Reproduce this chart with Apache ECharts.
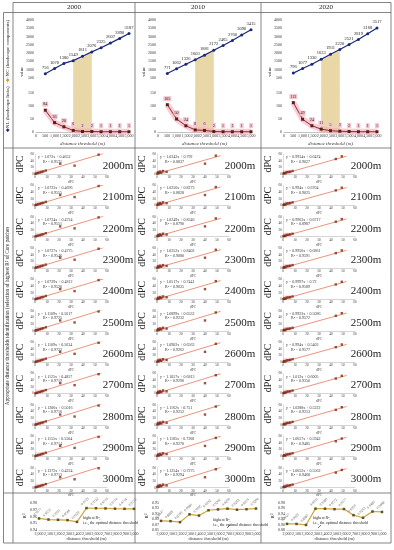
<!DOCTYPE html>
<html><head><meta charset="utf-8">
<script src="https://cdn.jsdelivr.net/npm/echarts@6/dist/echarts.min.js"></script>
<style>html,body{margin:0;padding:0;background:#fff}#c{width:394px;height:550px}</style>
</head><body><div id="c"></div>
<script>
// ---------------- data ----------------
const years = ['2000', '2010', '2020'];
const topThresholds = [500, 1000, 1500, 2000, 2500, 3000, 3500, 4000, 4500, 5000];
const nc2000 = [756, 1070, 1380, 1549, 1811, 2076, 2325, 2607, 2890, 3187];
const nc2010 = [771, 1062, 1326, 1603, 1881, 2172, 2465, 2760, 3090, 3415];
const nc2020 = [796, 1077, 1330, 1633, 1931, 2220, 2521, 2819, 3168, 3517];
const nl2000 = [84, 36, 20, 6, 2, 2, 1, 1, 1, 1];
const nl2010 = [105, 50, 24, 8, 6, 2, 1, 1, 1, 1];
const nl2020 = [113, 49, 24, 11, 5, 3, 2, 1, 1, 1];
const highlightRange = [2000, 3000];

const rowThresholds = [2000, 2100, 2200, 2300, 2400, 2500, 2600, 2700, 2800, 2900, 3000];
const rowLabels = ['2000m', '2100m', '2200m', '2300m', '2400m', '2500m', '2600m', '2700m', '2800m', '2900m', '3000m'];

const slope2000 = [1.072, 1.0723, 1.0724, 1.0727, 1.0729, 1.1109, 1.1109, 1.1125, 1.1206, 1.1155, 1.1372];
const intercept2000 = [0.4652, 0.4696, 0.4724, 0.4775, 0.4812, 0.5617, 0.5634, 0.4857, 0.5016, 0.5504, 0.4224];
const r2_2000 = [0.9571, 0.9555, 0.9551, 0.9546, 0.9520, 0.9725, 0.9722, 0.9719, 0.9716, 0.9714, 0.9713];

const slope2010 = [1.0242, 1.0256, 1.0249, 1.0252, 1.0517, 1.0899, 1.0902, 1.1057, 1.1162, 1.1185, 1.1254];
const intercept2010 = [0.792, 0.8273, 0.8346, 0.8402, 0.7441, 0.6532, 0.6563, 0.6813, 0.751, 0.7268, 0.7275];
const r2_2010 = [0.8837, 0.8828, 0.8790, 0.9080, 0.9035, 0.9232, 0.9262, 0.9290, 0.9252, 0.9270, 0.9294];

const slope2020 = [0.9934, 0.994, 0.9963, 0.9956, 0.9997, 0.9923, 0.994, 1.012, 1.0288, 1.0657, 1.0652];
const intercept2020 = [0.6474, 0.6704, 0.6717, 0.6861, 0.72, 0.5086, 0.5403, 0.6005, 0.5222, 0.5942, 0.5562];
const r2_2020 = [0.9027, 0.9025, 0.8987, 0.9591, 0.9589, 0.9572, 0.9577, 0.9350, 0.9253, 0.9485, 0.9468];

const dpcX2000 = [0.3, 1.2, 2.5, 4, 5.5, 7, 9, 21, 33, 53];
const dpcY2000 = [0.6, 1.8, 3.2, 4.6, 6.5, 7.8, 10.5, 31, 25, 58];
const dpcX2010 = [0.2, 0.8, 1.5, 2.5, 3.5, 5, 8, 40, 49];
const dpcY2010 = [1, 5, 2.5, 7, 4, 9, 6.5, 31, 55];
const dpcX2020 = [0.3, 1, 2, 3, 4.5, 6, 8, 44, 49];
const dpcY2020 = [1, 3, 2, 5.5, 6, 7, 9, 45, 53];

// ---------------- layout / styles ----------------
const SERIF = 'Liberation Serif';
const colLeft = [13, 135, 261];
const ncAll = [nc2000, nc2010, nc2020];
const nlAll = [nl2000, nl2010, nl2020];
const slopeAll = [slope2000, slope2010, slope2020];
const interAll = [intercept2000, intercept2010, intercept2020];
const r2All = [r2_2000, r2_2010, r2_2020];
const dxAll = [dpcX2000, dpcX2010, dpcX2020];
const dyAll = [dpcY2000, dpcY2010, dpcY2020];
const r2Axis = [{min: 0.94, max: 0.98, interval: 0.01}, {min: 0.85, max: 0.95, interval: 0.02}, {min: 0.88, max: 0.98, interval: 0.02}];
const annot = [{x: 70, y: 518, arrow: null}, {x: 78, y: 520, arrow: [92, 527]}, {x: 52, y: 518, arrow: [57, 527]}];

const grid = [], xAxis = [], yAxis = [], series = [], graphic = [];
function addGrid(g, xa, ya) {
  grid.push(g);
  const i = grid.length - 1;
  xa.gridIndex = i; ya.gridIndex = i;
  xAxis.push(xa); yAxis.push(ya);
  return i;
}
const noLine = {show: false};
function txt(x, y, text, o) {
  o = o || {};
  graphic.push({
    type: 'text', x: x, y: y, rotation: o.rot || 0, silent: true, z: 100,
    style: Object.assign({
      text: text, fill: o.fill || '#222', fontSize: o.size || 5, fontFamily: SERIF,
      fontStyle: o.italic ? 'italic' : 'normal',
      align: o.align || 'center', verticalAlign: o.valign || 'middle'
    }, o.rich ? {rich: o.rich} : {})
  });
}
function ln(x1, y1, x2, y2, c, w) {
  graphic.push({type: 'line', silent: true, z: 99, shape: {x1, y1, x2, y2}, style: {stroke: c || '#666', lineWidth: w || 0.8}});
}

const rowTop0 = 148, rowH = 31.36;

for (let c = 0; c < 3; c++) {
  const L = colLeft[c];
  const nc = ncAll[c], nl = nlAll[c];
  // ---- top: upper (NC) ----
  const gU = addGrid({left: L + 23, top: 20, width: 93, height: 74.6},
    {type: 'value', min: 0, max: 5000, interval: 500, show: false},
    {type: 'value', min: -500, max: 4000, interval: 500, axisLine: noLine, axisTick: noLine, splitLine: noLine,
     axisLabel: {fontSize: 4, margin: 2, color: '#333', fontFamily: SERIF, formatter: v => v >= 500 ? String(v) : ''}});
  const ncPts = topThresholds.map((t, i) => [t, nc[i]]);
  series.push({type: 'line', xAxisIndex: gU, yAxisIndex: gU, z: 1, silent: true, symbol: 'none',
    data: ncPts.filter(p => p[0] >= highlightRange[0] && p[0] <= highlightRange[1]),
    lineStyle: {opacity: 0}, areaStyle: {color: '#ead7a8', opacity: 1, origin: 'start'}});
  series.push({type: 'line', xAxisIndex: gU, yAxisIndex: gU, z: 3, data: ncPts,
    symbol: 'circle', symbolSize: 3, lineStyle: {color: '#1b2a78', width: 1.2}, itemStyle: {color: '#1b2a78'},
    label: {show: true, position: 'top', distance: 2, fontSize: 4.5, color: '#222', fontFamily: SERIF}});
  // ---- top: lower (NL) ----
  const gL = addGrid({left: L + 23, top: 93, width: 93, height: 39},
    {type: 'value', min: 0, max: 5000, interval: 500, splitLine: noLine, axisTick: noLine,
     axisLine: {lineStyle: {color: '#999', width: 0.6}},
     axisLabel: {fontSize: 4, margin: 2, color: '#333', fontFamily: SERIF},
     name: 'distance threshold (m)', nameLocation: 'middle', nameGap: 9,
     nameTextStyle: {fontSize: 5, fontStyle: 'italic', color: '#333', fontFamily: SERIF}},
    {type: 'value', min: 0, max: 150, interval: 50, axisLine: noLine, axisTick: noLine, splitLine: noLine,
     axisLabel: {fontSize: 4, margin: 2, color: '#333', fontFamily: SERIF}});
  const nlPts = topThresholds.map((t, i) => [t, nl[i]]);
  series.push({type: 'line', xAxisIndex: gL, yAxisIndex: gL, z: 1, silent: true, symbol: 'none', data: nlPts,
    lineStyle: {color: 'rgba(245,168,190,0.6)', width: 6},
    markArea: {silent: true, itemStyle: {color: '#ead7a8'}, data: [[{xAxis: highlightRange[0]}, {xAxis: highlightRange[1]}]]}});
  series.push({type: 'line', xAxisIndex: gL, yAxisIndex: gL, z: 3, data: nlPts,
    symbol: 'rect', symbolSize: 3, lineStyle: {color: '#8a2f1f', width: 1}, itemStyle: {color: '#5a1e12'},
    label: {show: true, position: 'top', distance: 2, fontSize: 4, color: '#222', fontFamily: SERIF,
      backgroundColor: '#f6c4d0', padding: [0.5, 1]}});
  txt(L + 9, 72, 'value', {rot: Math.PI / 2, size: 4.5});

  // ---- scatter rows ----
  for (let r = 0; r < rowThresholds.length; r++) {
    const T = rowTop0 + r * rowH;
    const gi = addGrid({left: L + 22, top: T + 6, width: 72, height: 20},
      {type: 'value', min: 0, max: 60, interval: 10, splitLine: noLine, axisTick: noLine,
       axisLine: {lineStyle: {color: '#aaa', width: 0.5}},
       axisLabel: {fontSize: 3.5, margin: 1, color: '#444', fontFamily: SERIF},
       name: 'dPC', nameLocation: 'middle', nameGap: 5, nameTextStyle: {fontSize: 3.5, color: '#444', fontFamily: SERIF}},
      {type: 'value', min: 0, max: 60, interval: 20, splitLine: noLine, axisTick: noLine,
       axisLine: {show: true, lineStyle: {color: '#bbb', width: 0.5}},
       axisLabel: {fontSize: 3.5, margin: 1, color: '#444', fontFamily: SERIF}});
    const a = slopeAll[c][r], b = interAll[c][r];
    const xs = dxAll[c], ys = dyAll[c];
    const xEnd = Math.max.apply(null, xs) + 4;
    series.push({type: 'line', xAxisIndex: gi, yAxisIndex: gi, z: 2, silent: true, symbol: 'none',
      data: [[0, b], [xEnd, a * xEnd + b]],
      lineStyle: {color: '#e8775a', width: 0.8},
      markArea: {silent: true, itemStyle: {color: 'rgba(250,165,190,0.5)'}, data: [[{coord: [0, 0]}, {coord: [7, 12]}]]}});
    series.push({type: 'scatter', xAxisIndex: gi, yAxisIndex: gi, z: 3, symbol: 'rect', symbolSize: 2.4,
      itemStyle: {color: '#7a2a12'}, data: xs.map((x, i) => [x, ys[i]])});
    txt(L + 25, T + 9, 'y = ' + a + 'x + ' + b, {align: 'left', size: 4, fill: '#333'});
    txt(L + 30, T + 13.5, 'R\u00b2 = ' + r2All[c][r].toFixed(4), {align: 'left', size: 4, fill: '#333'});
    txt(L + 7.5, T + 16, 'dPC', {rot: Math.PI / 2, size: 10});
    txt(L + 105, T + 18, rowLabels[r], {size: 11});
  }

  // ---- bottom R2 chart ----
  const ax = r2Axis[c];
  const gB = addGrid({left: L + 26, top: 503, width: 95, height: 27},
    {type: 'value', min: 2000, max: 3000, interval: 100, splitLine: noLine, axisTick: noLine,
     axisLine: {lineStyle: {color: '#aaa', width: 0.5}},
     axisLabel: {fontSize: 4, margin: 1.5, color: '#333', fontFamily: SERIF},
     name: 'distance threshold (m)', nameLocation: 'middle', nameGap: 6.5,
     nameTextStyle: {fontSize: 4.5, color: '#333', fontFamily: SERIF}},
    {type: 'value', min: ax.min, max: ax.max, interval: ax.interval, splitLine: noLine, axisTick: noLine, axisLine: noLine,
     axisLabel: {fontSize: 4, margin: 2, color: '#333', fontFamily: SERIF, formatter: v => v.toFixed(2)}});
  series.push({type: 'line', xAxisIndex: gB, yAxisIndex: gB, z: 3,
    data: rowThresholds.map((t, i) => [t, r2All[c][i]]),
    symbol: 'rect', symbolSize: 2.5, lineStyle: {color: '#d2a43a', width: 1.2}, itemStyle: {color: '#5c5220'},
    label: {show: true, position: 'top', distance: 4, rotate: 45, fontSize: 3.5, color: '#555', fontFamily: SERIF,
      formatter: p => p.value[1].toFixed(4)}});
  txt(L + 12, 516, 'R\u00b2', {rot: Math.PI / 2, size: 5});
  const an = annot[c];
  txt(L + an.x, an.y, 'highest R\u00b2,', {align: 'left', size: 4});
  txt(L + an.x, an.y + 4.5, 'i.e., the optimal distance threshold', {align: 'left', size: 4});
  if (an.arrow) {
    ln(L + an.arrow[0] + 3, an.arrow[1] - 2, L + an.arrow[0], an.arrow[1] + 1, '#3355aa', 0.8);
  }

  // header
  txt(L + (c === 2 ? 65 : (c === 0 ? 61 : 63)), 7.5, years[c], {size: 7});
}

// left-side titles
txt(7.5, 76, '{a|\u25c6}NL (landscape links)  {b|-\u25c6-}NC (landscape components)',
  {rot: Math.PI / 2, size: 5, rich: {a: {fill: '#1b2a78', fontSize: 5}, b: {fill: '#d39a2a', fontSize: 5}}});
txt(7.5, 316, 'Appropriate distance thresholds identification (selection of highest R\u00b2 of Core patches',
  {rot: Math.PI / 2, size: 5.2});

// frame lines
ln(13, 2.5, 391, 2.5);
ln(3.5, 12.5, 391, 12.5);
ln(3.5, 148, 391, 148);
ln(3.5, 493, 391, 493);
ln(3.5, 543, 391, 543);
ln(3.5, 12.5, 3.5, 543);
ln(13, 2.5, 13, 543);
ln(135, 2.5, 135, 543);
ln(261, 2.5, 261, 543);
ln(391, 2.5, 391, 543);

const chart = echarts.init(document.getElementById('c'), null, {renderer: 'canvas'});
chart.setOption({animation: false, backgroundColor: '#fff', grid, xAxis, yAxis, series, graphic});
</script>
</body></html>
